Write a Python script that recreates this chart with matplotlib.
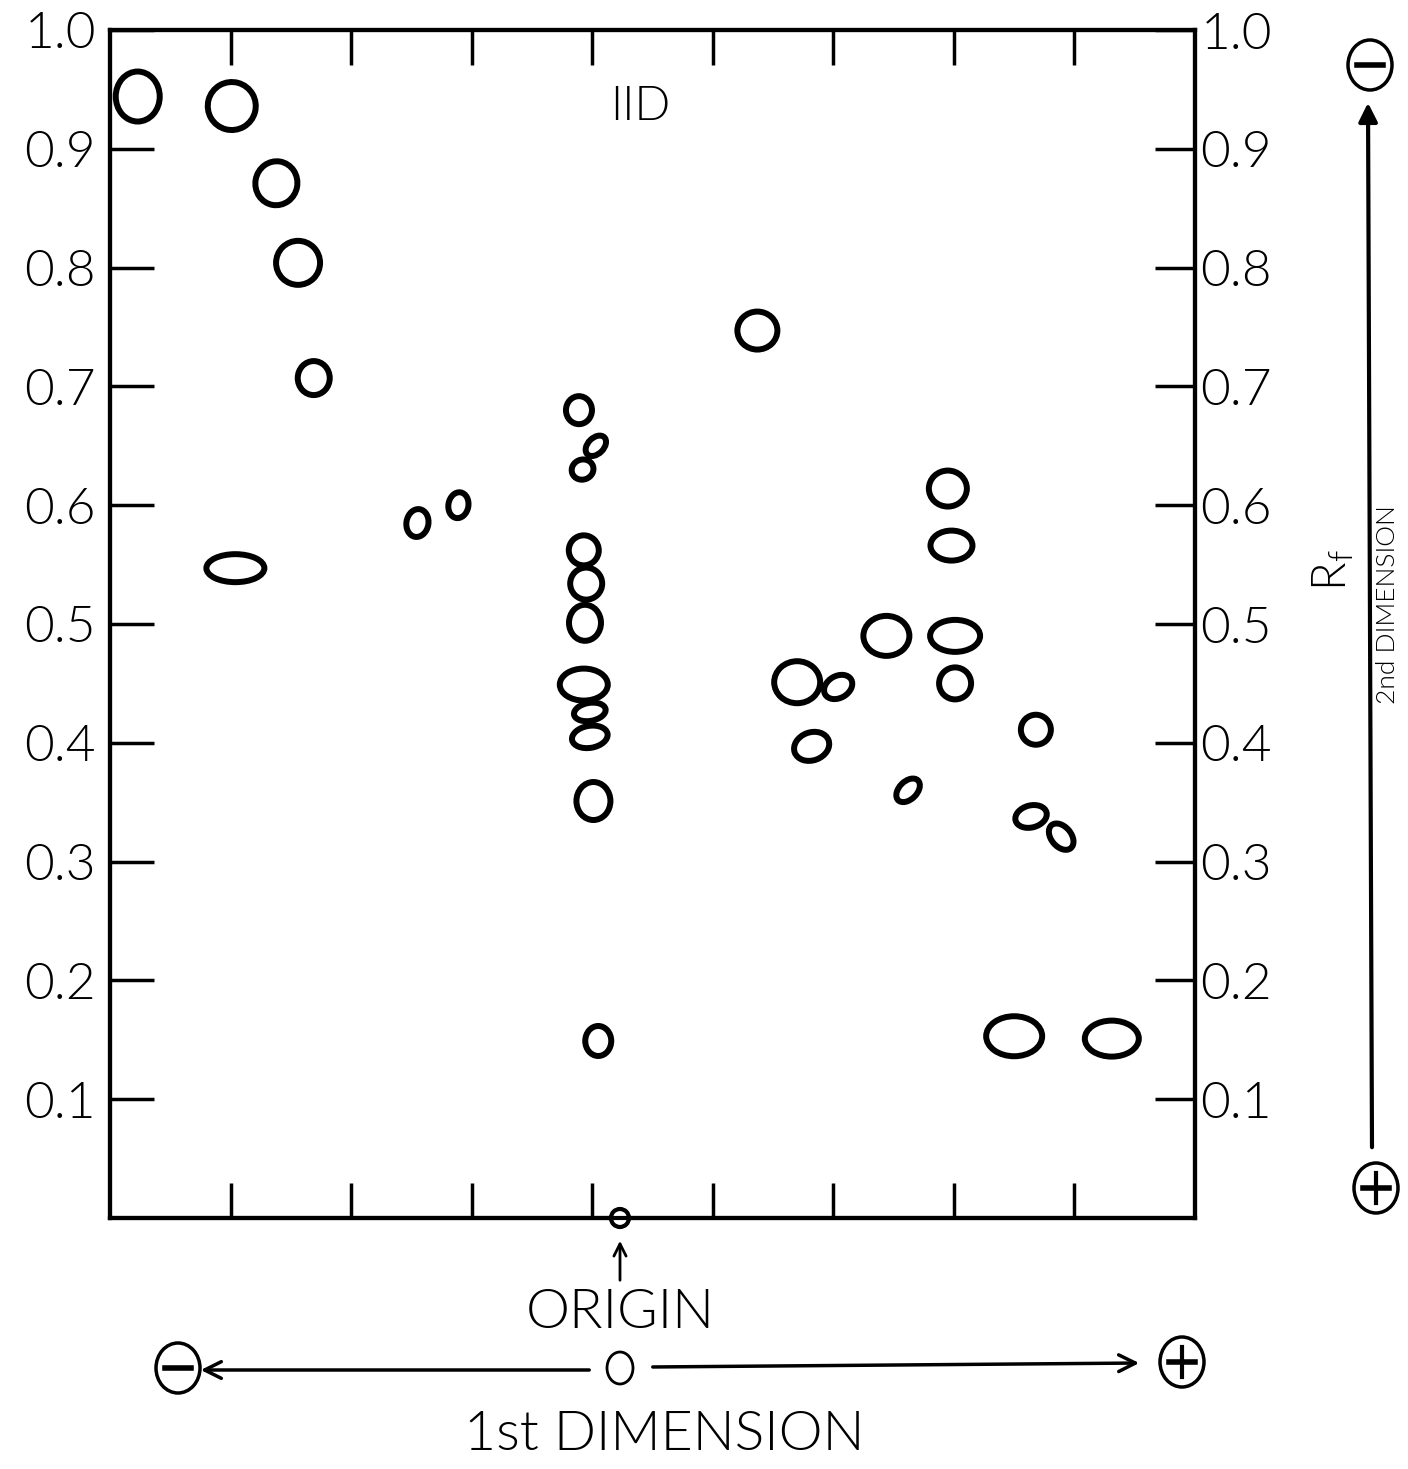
import matplotlib
matplotlib.use('Agg')
import matplotlib.pyplot as plt
from matplotlib.patches import Ellipse, FancyArrowPatch
from matplotlib.lines import Line2D
from matplotlib import transforms

plt.rcParams['font.family'] = ['Lato', 'DejaVu Sans']
plt.rcParams['font.weight'] = 300

# spot centres: position along 1st dimension (tick units) and Rf (2nd dimension)
spot_x = [0.23, 1.01, 1.38, 1.56, 1.69, 1.04, 2.55, 2.89,
          3.89, 4.03, 3.92, 3.93, 3.95, 3.94, 3.93, 3.98, 3.98, 4.01, 4.05,
          5.37, 5.70, 6.04, 5.82, 6.44, 6.95, 6.98, 7.01, 7.01, 6.62,
          7.68, 7.64, 7.89, 7.50, 8.31]
spot_rf = [0.944, 0.936, 0.871, 0.804, 0.707, 0.547, 0.585, 0.600,
           0.680, 0.650, 0.630, 0.562, 0.534, 0.501, 0.449, 0.426, 0.405, 0.351, 0.149,
           0.747, 0.451, 0.447, 0.397, 0.490, 0.614, 0.566, 0.490, 0.450, 0.360,
           0.411, 0.338, 0.321, 0.153, 0.151]
# spot size on the plate (inches) and tilt (degrees)
spot_w = [0.44, 0.48, 0.42, 0.44, 0.32, 0.58, 0.22, 0.20,
          0.26, 0.24, 0.22, 0.30, 0.32, 0.32, 0.48, 0.32, 0.36, 0.34, 0.26,
          0.40, 0.46, 0.30, 0.36, 0.46, 0.38, 0.42, 0.50, 0.32, 0.28,
          0.30, 0.22, 0.30, 0.56, 0.54]
spot_h = [0.50, 0.48, 0.44, 0.44, 0.34, 0.28, 0.28, 0.26,
          0.28, 0.16, 0.20, 0.30, 0.32, 0.36, 0.32, 0.18, 0.22, 0.38, 0.30,
          0.38, 0.42, 0.22, 0.28, 0.40, 0.36, 0.30, 0.32, 0.32, 0.18,
          0.30, 0.32, 0.20, 0.40, 0.36]
spot_tilt = [0, -15, -10, 0, 0, 0, -10, -10,
             0, 45, 20, 0, 0, 0, 0, 10, 10, 0, 0,
             0, 0, 30, 20, 0, 0, 0, 0, 0, 45,
             0, -75, -50, 0, 0]

rf_ticks = [0.1, 0.2, 0.3, 0.4, 0.5, 0.6, 0.7, 0.8, 0.9, 1.0]
rf_labels = ['0.1', '0.2', '0.3', '0.4', '0.5', '0.6', '0.7', '0.8', '0.9', '1.0']
dim1_ticks = [1, 2, 3, 4, 5, 6, 7, 8]
origin_x = 4.23

W, H = 1408, 1469
fig = plt.figure(figsize=(W / 100, H / 100), dpi=100)
ax = fig.add_axes([110 / W, 251 / H, 1085 / W, 1188 / H])
ax.set_xlim(0, 9)
ax.set_ylim(0, 1)

for x, y, w, h, a in zip(spot_x, spot_rf, spot_w, spot_h, spot_tilt):
    tr = fig.dpi_scale_trans + transforms.ScaledTranslation(x, y, ax.transData)
    ax.add_patch(Ellipse((0, 0), w, h, angle=a, transform=tr, fill=False,
                         lw=4.3, ec='black'))

# origin spot on the bottom edge
tr = fig.dpi_scale_trans + transforms.ScaledTranslation(origin_x, 0, ax.transData)
ax.add_patch(Ellipse((0, 0), 0.18, 0.18, transform=tr, fc='white', ec='black',
                     lw=3, clip_on=False, zorder=5))

ax.text(4.4, 0.935, 'IID', fontsize=34, ha='center', va='center')

for s in ax.spines.values():
    s.set_linewidth(3)

ax.set_yticks(rf_ticks)
ax.set_yticklabels(rf_labels)
ax.tick_params(axis='y', direction='in', length=32, width=2.5, labelsize=37, pad=10)
ax.set_xticks(dim1_ticks)
ax.tick_params(axis='x', direction='in', length=25, width=2.5, top=True,
               labelbottom=False)

ax2 = ax.twinx()
ax2.set_ylim(0, 1)
ax2.set_yticks(rf_ticks)
ax2.set_yticklabels(rf_labels)
ax2.tick_params(axis='y', direction='in', length=29, width=2.5, labelsize=37, pad=4)
for s in ax2.spines.values():
    s.set_linewidth(3)


def fp(px, py):
    return px / W, 1 - py / H


def sign(px, py, plus):
    # circled + or - sign, given in pixel coords
    cx, cy = px / 100, (H - py) / 100
    fig.add_artist(Ellipse((cx, cy), 0.44, 0.50, transform=fig.dpi_scale_trans,
                           fill=False, ec='black', lw=2.5))
    fig.add_artist(Line2D([cx - 0.13, cx + 0.13], [cy, cy], color='black', lw=4,
                          transform=fig.dpi_scale_trans))
    if plus:
        fig.add_artist(Line2D([cx, cx], [cy - 0.15, cy + 0.15], color='black', lw=3,
                              transform=fig.dpi_scale_trans))


def arrow(p0, p1, style='->', lw=2.5, ms=30):
    fig.add_artist(FancyArrowPatch(fp(*p0), fp(*p1), transform=fig.transFigure,
                                   arrowstyle=style, mutation_scale=ms, lw=lw,
                                   color='black'))


# 1st dimension (bottom)
arrow((620, 1283), (620, 1238), ms=22, lw=2)
fig.text(*fp(620, 1313), 'ORIGIN', fontsize=40, ha='center', va='center')
sign(178, 1368, False)
arrow((592, 1370), (198, 1370))
fig.add_artist(Ellipse((620 / 100, (H - 1368) / 100), 0.26, 0.32,
                       transform=fig.dpi_scale_trans, fill=False, ec='black', lw=2))
arrow((650, 1367), (1142, 1363))
sign(1182, 1362, True)
fig.text(*fp(664, 1435), '1st DIMENSION', fontsize=40, ha='center', va='center')

# 2nd dimension (right)
sign(1370, 65, False)
arrow((1372, 1150), (1368, 100), style='-|>', ms=28, lw=3)
sign(1376, 1188, True)
fig.text(*fp(1333, 570), r'R$_\mathregular{f}$', fontsize=34, rotation=90,
         ha='center', va='center')
fig.text(*fp(1376, 605), '2nd DIMENSION', fontsize=19, rotation=90,
         ha='left', va='center')

fig.savefig('out.png', dpi=100)
